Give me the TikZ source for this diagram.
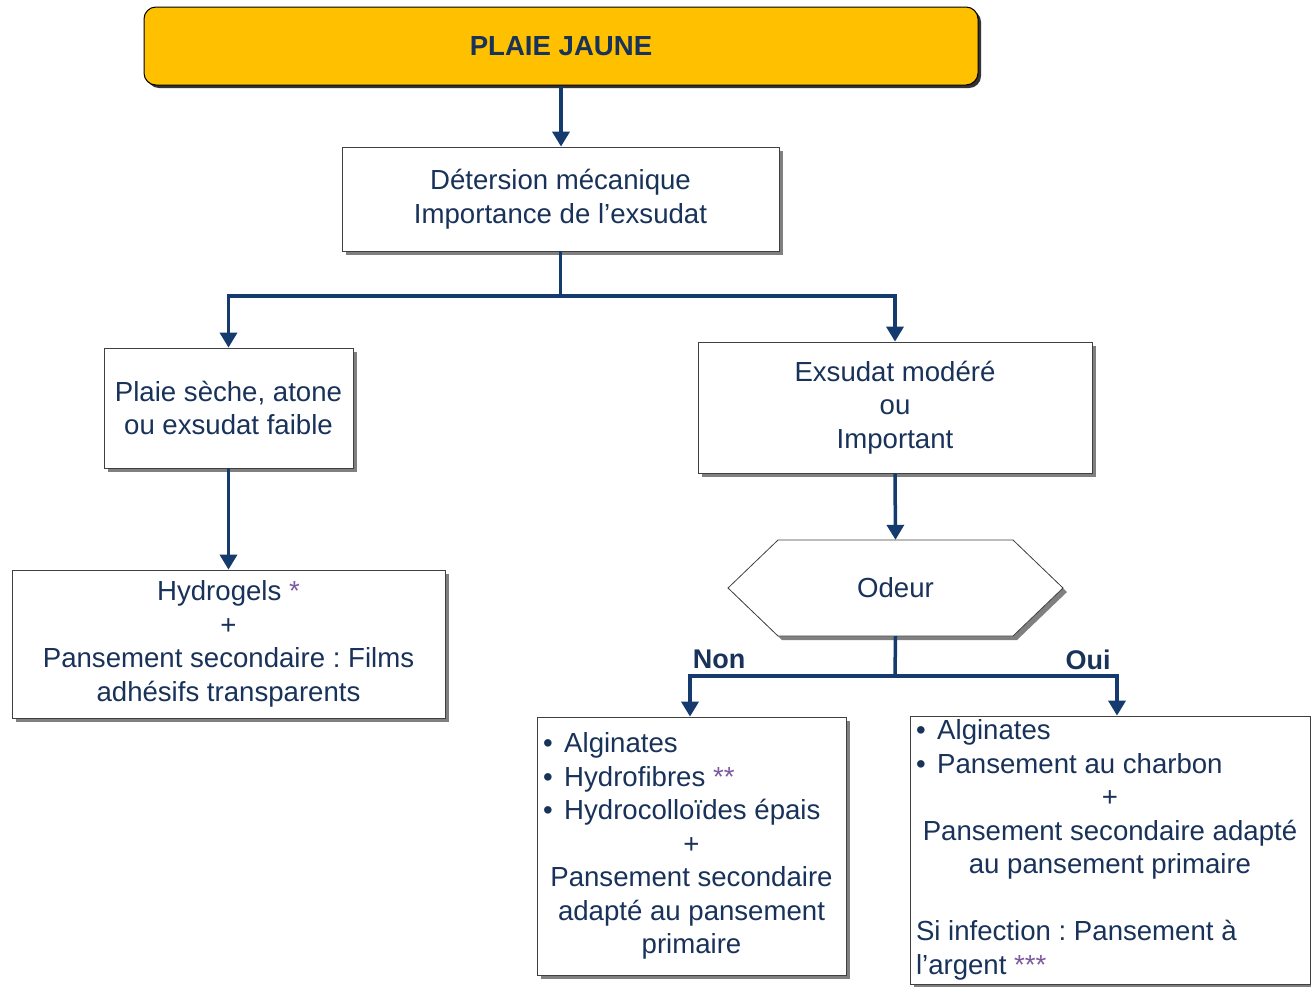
\documentclass[tikz,border=0pt]{standalone}
\usepackage{fontspec}
\setmainfont{Liberation Sans}
\usetikzlibrary{arrows.meta,shadows}
\definecolor{navy}{RGB}{20,58,110}
\definecolor{txt}{RGB}{25,50,90}
\definecolor{star}{RGB}{125,90,160}
\definecolor{gold}{RGB}{255,192,0}
\frenchspacing
\newcommand{\bul}{•\hspace{0.42em}}
\begin{document}
\begin{tikzpicture}[x=1pt,y=-1pt,
  font=\fontsize{27.6}{33.5}\selectfont,
  shad/.style={drop shadow={shadow xshift=4pt,shadow yshift=-4pt,fill=black!50,opacity=1}},
  frame/.style={draw=black!75, line width=0.8pt, fill=white, text=txt, inner sep=0pt, shad},
  box/.style={frame, align=center},
  conn/.style={draw=navy, line width=3.5pt},
  arr/.style={conn, -{Triangle[width=17pt,length=15pt]}},
  lab/.style={text=txt, font=\fontsize{27}{30}\selectfont\bfseries, inner sep=0pt}]
\useasboundingbox (0,0) rectangle (1311,986);

\node[draw=black, line width=1pt, fill=gold, rounded corners=12pt,
      minimum width=834, minimum height=78, text=txt,
      drop shadow={shadow xshift=3pt,shadow yshift=-3pt,fill=black!80,opacity=1},
      font=\fontsize{27.6}{30}\selectfont\bfseries] (top) at (561,46) {PLAIE JAUNE};

\node[box, minimum width=437, minimum height=104] (det) at (560.5,199)
  {Détersion mécanique\\Importance de l’exsudat};

\node[box, minimum width=249, minimum height=120] (dry) at (228.5,408)
  {Plaie sèche, atone\\ou exsudat faible};

\node[box, minimum width=394, minimum height=131] (wet) at (895,407.5)
  {Exsudat modéré\\ou\\Important};

\node[box, minimum width=433, minimum height=148] (hydro) at (228.5,644)
  {Hydrogels \textcolor{star}{*}\\+\\Pansement secondaire : Films\\adhésifs transparents};

% hexagon
\fill[black!50] (732,592) -- (782,544) -- (1017,544) -- (1067,592) -- (1017,640) -- (782,640) -- cycle;
\draw[black!75, line width=0.8pt, fill=white] (728,588) -- (778,540) -- (1013,540) -- (1063,588) -- (1013,636) -- (778,636) -- cycle;
\node[minimum width=335, minimum height=96, inner sep=0pt, text=txt] (odeur) at (895.5,588) {Odeur};

\node[frame, minimum width=309, minimum height=258] (non) at (691.5,846)
  {\begin{minipage}{297pt}\raggedright
   \bul Alginates\\
   \bul Hydrofibres \textcolor{star}{**}\\
   \bul Hydrocolloïdes épais\par
   \centering +\\Pansement secondaire\\adapté au pansement\\primaire\par
   \end{minipage}};

\node[frame, minimum width=400, minimum height=268] (oui) at (1110,850)
  {\begin{minipage}{388pt}\raggedright
   \bul Alginates\\
   \bul Pansement au charbon\par
   {\centering +\\Pansement secondaire adapté\\au pansement primaire\par}
   \vspace{33.5pt}
   Si infection : Pansement à\\
   l’argent \textcolor{star}{***}\par
   \end{minipage}};

\node[lab] (lnon) at (719,659) {Non};
\node[lab] (loui) at (1088,660) {Oui};

\coordinate (j1) at (561,296);
\coordinate (j2) at (895,676);

\draw[arr] (top.south) -- (top.south |- det.north);
\draw[conn] (det.south) -- (det.south |- j1);
\draw[arr] (j1) -| (dry.north);
\draw[arr] (j1) -| (wet.north);
\draw[arr] (dry.south) -- (hydro.north);
\draw[arr] (wet.south) -- (odeur.north);
\draw[conn] (odeur.south) -- (j2);
\draw[arr] (j2) -| ([xshift=-1.5pt]non.north);
\draw[arr] (j2) -| ([xshift=7pt]oui.north);
\end{tikzpicture}
\end{document}
